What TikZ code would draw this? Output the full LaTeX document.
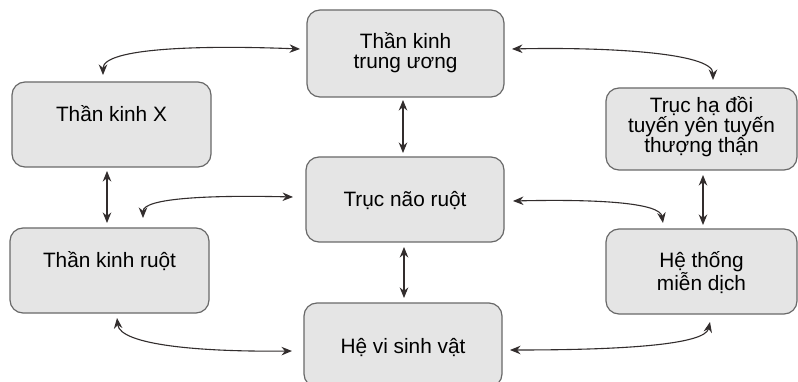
\documentclass[tikz,border=0pt]{standalone}
\usepackage{fontspec}
\setmainfont{Liberation Sans}
\usetikzlibrary{arrows.meta}
\definecolor{boxfill}{RGB}{229,229,229}
\definecolor{boxline}{RGB}{105,105,105}
\definecolor{arr}{RGB}{50,45,45}
\begin{document}
\begin{tikzpicture}[x=1pt,y=-1pt,
  box/.style={draw=boxline,line width=1.2pt,fill=boxfill,rounded corners=13pt,inner sep=0pt,outer sep=0pt},
  lbl/.style={font=\fontsize{20.8}{20}\selectfont,align=center,inner sep=0pt},
  biarrow/.style={{Stealth[length=10.5pt,width=8.5pt]}-{Stealth[length=10.5pt,width=8.5pt]},line width=1.1pt,draw=arr}]
\clip (0,0) rectangle (798,382);
\fill[white] (0,0) rectangle (798,382);
% boxes
\node[box,minimum width=197pt,minimum height=87pt] (tktw) at (405.5,53.5) {};
\node[box,minimum width=191pt,minimum height=82pt] (thd) at (701.5,129) {};
\node[box,minimum width=199pt,minimum height=85pt] (tkx) at (111.5,124.5) {};
\node[box,minimum width=199pt,minimum height=85pt] (tkr) at (109.5,270.5) {};
\node[box,minimum width=198pt,minimum height=85pt] (tnr) at (405,199.5) {};
\node[box,minimum width=191pt,minimum height=85pt] (htmd) at (701.5,271.5) {};
\node[box,minimum width=198pt,minimum height=84pt] (hvsv) at (403,345) {};
% labels
\node[lbl] at (405.5,53) {Thần kinh\\trung ương};
\node[lbl] at (701.5,126.5) {Trục hạ đồi\\tuyến yên tuyến\\thượng thận};
\node[lbl,anchor=base] at (111.5,122) {Thần kinh X};
\node[lbl,anchor=base] at (109.5,268) {Thần kinh ruột};
\node[lbl,anchor=base] at (405,207) {Trục não ruột};
\node[lbl] at (701.5,272.5) {Hệ thống\\miễn dịch};
\node[lbl,anchor=base] at (403,353) {Hệ vi sinh vật};
% curved connectors
\draw[biarrow] ([shift={(-7,-4.5)}]tktw.west) .. controls (200,45) and (103,48) .. ([shift={(-8.5,-7)}]tkx.north);
\draw[biarrow] ([shift={(8,-4.5)}]tktw.east) .. controls (600,47) and (713,52) .. ([shift={(11.5,-8)}]thd.north);
\draw[biarrow] ([shift={(-13,-2.5)}]tnr.west) .. controls (210,195) and (143,198) .. ([shift={(33.5,-10)}]tkr.north);
\draw[biarrow] ([shift={(7.5,5)}]tkr.south) .. controls (120,345) and (200,352) .. ([shift={(-12,6)}]hvsv.west);
\draw[biarrow] ([shift={(9,1.5)}]tnr.east) .. controls (600,199) and (660,203) .. ([shift={(-38.5,-6)}]htmd.north);
\draw[biarrow] ([shift={(8,5)}]hvsv.east) .. controls (620,350) and (705,345) .. ([shift={(8.5,8)}]htmd.south);
% vertical connectors
\draw[biarrow] ([shift={(-2.5,3)}]tktw.south) -- ([shift={(-2,-4)}]tnr.north);
\draw[biarrow] ([shift={(-4.5,4)}]tkx.south) -- ([shift={(-2.5,-5)}]tkr.north);
\draw[biarrow] ([shift={(-1,5)}]tnr.south) -- ([shift={(1,-5)}]hvsv.north);
\draw[biarrow] ([shift={(1.5,5)}]thd.south) -- ([shift={(1.5,-4)}]htmd.north);
\end{tikzpicture}
\end{document}
